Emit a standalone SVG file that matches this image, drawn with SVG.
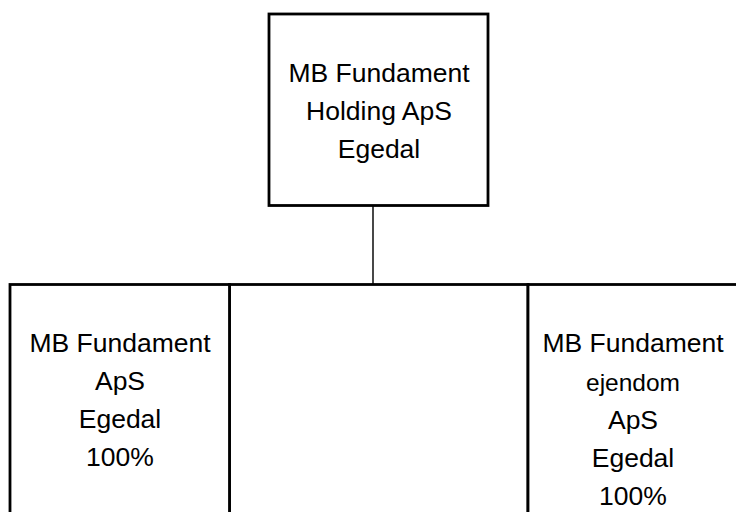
<svg xmlns="http://www.w3.org/2000/svg" width="736" height="512" viewBox="0 0 736 512">
<style>
.box{fill:#fff;stroke:#000;stroke-width:2.8}
.t{font-family:"Liberation Sans",Arial,sans-serif;font-size:26.5px;fill:#000;text-anchor:middle}
.s{font-size:24.5px}
.conn{stroke:#1a1a1a;stroke-width:1.6;fill:none}
</style>
<rect width="736" height="512" fill="#fff"/>
<g id="connectors">
<line class="conn" x1="373" y1="205.5" x2="373" y2="284.5"/>
</g>
<g id="node-holding">
<rect class="box" x="269" y="14" width="219" height="191.5"/>
<text class="t" x="379" y="82">MB Fundament</text>
<text class="t" x="379" y="120">Holding ApS</text>
<text class="t" x="379" y="158">Egedal</text>
</g>
<g id="node-middle">
<rect class="box" x="229.5" y="284.5" width="298.5" height="240"/>
</g>
<g id="node-aps">
<rect class="box" x="10" y="284.5" width="219.5" height="240"/>
<text class="t" x="120" y="352">MB Fundament</text>
<text class="t" x="120" y="390">ApS</text>
<text class="t" x="120" y="428">Egedal</text>
<text class="t" x="120" y="466">100%</text>
</g>
<g id="node-ejendom">
<rect class="box" x="528" y="284.5" width="212" height="240"/>
<text class="t" x="633" y="352">MB Fundament</text>
<text class="t s" x="633" y="391">ejendom</text>
<text class="t" x="633" y="429">ApS</text>
<text class="t" x="633" y="467">Egedal</text>
<text class="t" x="633" y="505">100%</text>
</g>
</svg>
